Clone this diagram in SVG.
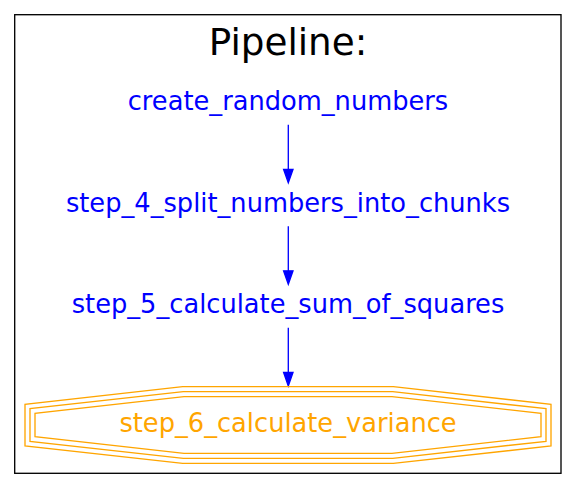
<svg xmlns="http://www.w3.org/2000/svg" width="576" height="499" viewBox="0 0 576 499">
<defs>
<style>
text{font-family:"DejaVu Sans",sans-serif;text-anchor:middle}
.lbl{font-size:25.7px;fill:#0000ff}
.fin{font-size:25.7px;fill:#ffa500}
.oct{fill:none;stroke:#ffa500;stroke-width:1.33}
.edge{stroke:#0000ff;stroke-width:1.33;fill:none}
.head{fill:#0000ff;stroke:#0000ff;stroke-width:1.33}
</style>
</defs>
<rect width="576" height="499" fill="#fff"/>
<g id="cluster_pipeline">
<rect x="14.7" y="14.7" width="546.3" height="458.6" fill="none" stroke="#000" stroke-width="1.33"/>
<text x="288" y="55" style="font-size:37.3px;fill:#000">Pipeline:</text>
</g>
<g id="edges">
<path class="edge" d="M288.3 124.7V170"/>
<polygon class="head" points="283.6,169.3 293,169.3 288.3,182.7"/>
<path class="edge" d="M288.3 226.2V271.5"/>
<polygon class="head" points="283.6,270.8 293,270.8 288.3,284.2"/>
<path class="edge" d="M288.3 327.7V373"/>
<polygon class="head" points="283.6,372.5 293,372.5 288.3,385.9"/>
</g>
<g id="create_random_numbers">
<text class="lbl" x="288" y="110.3">create_random_numbers</text>
</g>
<g id="step_4_split_numbers_into_chunks">
<text class="lbl" x="288" y="211.8">step_4_split_numbers_into_chunks</text>
</g>
<g id="step_5_calculate_sum_of_squares">
<text class="lbl" x="288" y="313.3">step_5_calculate_sum_of_squares</text>
</g>
<g id="step_6_calculate_variance">
<polygon class="oct" points="182.7,386.7 393.3,386.7 551,404.3 551,446 393.3,463.3 182.7,463.3 25,446 25,404.3"/>
<polygon class="oct" points="183.3,391.7 392.7,391.7 546,408.7 546,441.3 392.7,458.3 183.3,458.3 30,441.3 30,408.7"/>
<polygon class="oct" points="184,396.7 392,396.7 541,413.3 541,436.7 392,453.3 184,453.3 35,436.7 35,413.3"/>
<text class="fin" x="288" y="432.3">step_6_calculate_variance</text>
</g>
</svg>
